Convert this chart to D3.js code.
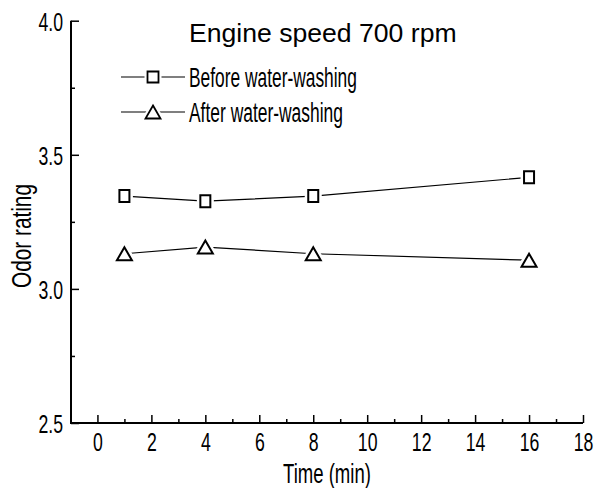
<!DOCTYPE html>
<html lang="en">
    <head>
        <meta charset="utf-8">
        <title>Odor rating</title>
        <script type="text/javascript" src="https://cdn.jsdelivr.net/npm/d3@7"></script>
        <style type="text/css">
            body { margin: 0; background: white; }
            text { font-family: "Liberation Sans", Arial, sans-serif; fill: black; }
        </style>
    </head>
    <body>
<svg width="595" height="488" id="main"></svg>

<script>

var times = [1, 4, 8, 16];
var before = [3.346, 3.327, 3.346, 3.416];
var after = [3.131, 3.156, 3.131, 3.107];
var seriesNames = ["Before water-washing", "After water-washing"];
var xTicks = [0, 2, 4, 6, 8, 10, 12, 14, 16, 18];
var xMinor = [1, 3, 5, 7, 9, 11, 13, 15, 17];
var yTicks = [2.5, 3.0, 3.5, 4.0];
var yMinor = [2.75, 3.25, 3.75];

var svg = d3.select("svg#main");

var x = d3.scaleLinear().domain([-0.98, 18]).range([71, 583]);
var y = d3.scaleLinear().domain([2.5, 4]).range([423, 20.7]);

// the reference uses a narrow face, so text is squeezed sideways
var narrow = 0.68;

// x axis, ticks inward
var gx = svg.append("g").attr("transform", "translate(0,423)");
gx.call(d3.axisBottom(x).tickValues(xTicks).tickSizeInner(-8).tickSizeOuter(0).tickPadding(10).tickFormat(d3.format("d")));
gx.append("g").call(d3.axisBottom(x).tickValues(xMinor).tickSize(-4).tickFormat(""));
gx.selectAll(".domain").remove();
gx.append("line").attr("x1", 70).attr("x2", 583).attr("stroke", "black").attr("stroke-width", 2);

var gy = svg.append("g").attr("transform", "translate(71,0)");
gy.call(d3.axisLeft(y).tickValues(yTicks).tickSizeInner(-8).tickSizeOuter(0).tickPadding(8).tickFormat(d3.format(".1f")));
gy.append("g").call(d3.axisLeft(y).tickValues(yMinor).tickSize(-4).tickFormat(""));
gy.selectAll(".domain").remove();
gy.append("line").attr("y1", y(4)).attr("y2", 424).attr("stroke", "black").attr("stroke-width", 2);

svg.selectAll(".tick line").attr("stroke", "black").attr("stroke-width", 1.5);
svg.selectAll(".tick text").attr("font-size", 26).attr("font-family", null).attr("fill", "black")
    .attr("transform", "scale(" + narrow + ",1)");
gy.selectAll(".tick text").attr("x", -8 / narrow).attr("dy", "0.38em");

// squeeze a text to a given width, anchored at (px,py)
function fitText(t, px, py, w, rot) {
    var len = t.node().getComputedTextLength();
    t.attr("transform", "translate(" + px + "," + py + ")" + (rot ? " rotate(" + rot + ")" : "") + " scale(" + (w / len) + ",1)");
}

// axis titles
fitText(svg.append("text").attr("font-size", 27).text("Time (min)"), 283, 483, 88);
fitText(svg.append("text").attr("text-anchor", "middle").attr("font-size", 27).text("Odor rating"), 31, 236, 104, -90);

svg.append("text").attr("x", 189).attr("y", 42).attr("font-size", 26.6).text("Engine speed 700 rpm");

function square(s) {
    return function(cx, cy) {
        return "M" + (cx - s[0] / 2) + "," + (cy - s[1] / 2) + "h" + s[0] + "v" + s[1] + "h" + (-s[0]) + "Z";
    };
}
function triangle(s) {
    return function(cx, cy) {
        return "M" + cx + "," + (cy - s[1] / 2) + "L" + (cx + s[0] / 2) + "," + (cy + s[1] / 2) + "L" + (cx - s[0] / 2) + "," + (cy + s[1] / 2) + "Z";
    };
}

var series = [
    {name: seriesNames[0], values: before, shape: square([10, 12])},
    {name: seriesNames[1], values: after, shape: triangle([15, 13])}
];

var line = d3.line().x(function(d) { return x(d[0]); }).y(function(d) { return y(d[1]); });

series.forEach(function(s) {
    var pts = times.map(function(t, i) { return [t, s.values[i]]; });
    svg.append("path").datum(pts).attr("d", line)
        .attr("fill", "none").attr("stroke", "black").attr("stroke-width", 1.2);
    // white halo leaves a small gap between line and marker
    svg.selectAll(null).data(pts).enter().append("path")
        .attr("d", function(d) { return s.shape(x(d[0]), y(d[1])); })
        .attr("fill", "white").attr("stroke", "white").attr("stroke-width", 7);
    svg.selectAll(null).data(pts).enter().append("path")
        .attr("d", function(d) { return s.shape(x(d[0]), y(d[1])); })
        .attr("fill", "white").attr("stroke", "black").attr("stroke-width", 2);
});

// legend
var legendY = [77, 112];
var legendShapes = [square([11, 11]), triangle([15, 13])];
var legendWidths = [168, 154];
series.forEach(function(s, i) {
    var g = svg.append("g");
    g.append("line").attr("x1", 121).attr("x2", 185).attr("y1", legendY[i]).attr("y2", legendY[i])
        .attr("stroke", "black").attr("stroke-width", 1.2);
    g.append("path").attr("d", legendShapes[i](153, legendY[i]))
        .attr("fill", "white").attr("stroke", "white").attr("stroke-width", 6);
    g.append("path").attr("d", legendShapes[i](153, legendY[i]))
        .attr("fill", "white").attr("stroke", "black").attr("stroke-width", 1.8);
    fitText(g.append("text").attr("font-size", 27.5).text(s.name), 189, legendY[i] + 10, legendWidths[i]);
});

</script>
    </body>
</html>
